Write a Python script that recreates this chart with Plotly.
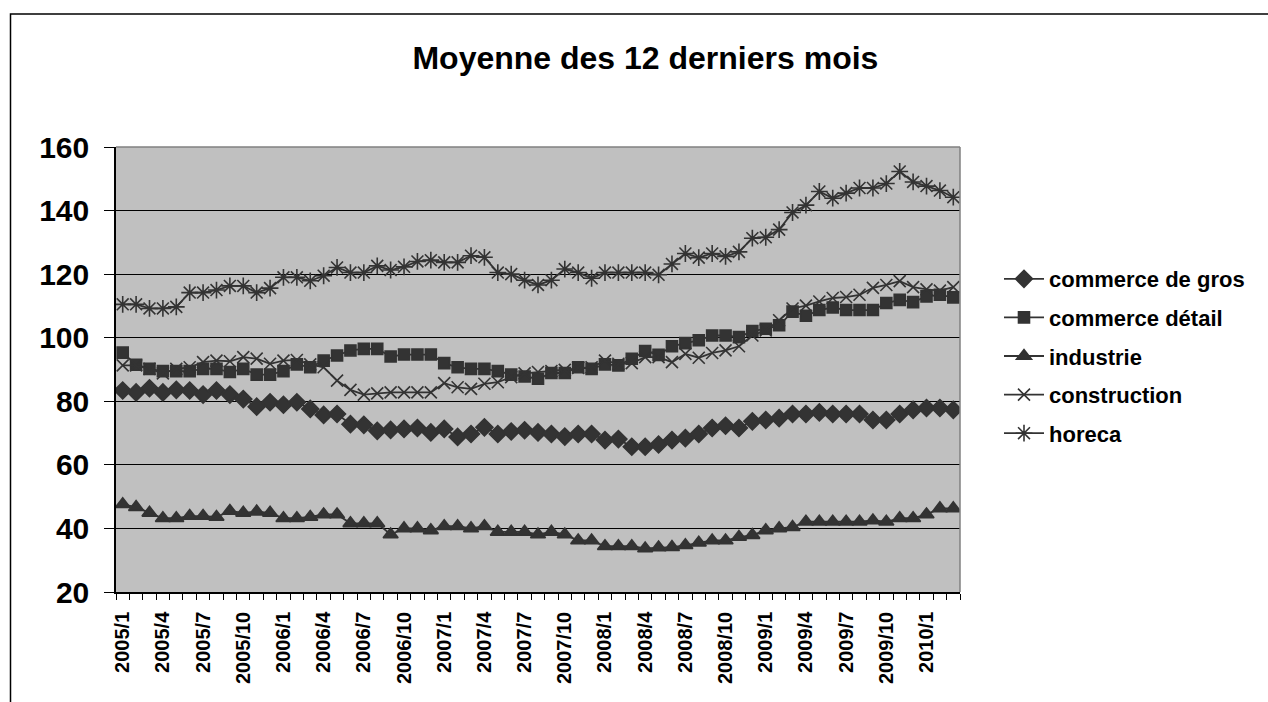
import plotly.graph_objects as go

months = [f"{y}/{m}" for y in range(2005, 2011) for m in range(1, 13)][:63]

commerce_gros = [83.4, 82.8, 84.1, 82.8, 83.6, 83.4, 82.1, 83.4, 82.1, 80.7, 78.3, 79.7, 78.9, 79.7, 77.6, 75.7,
                 76.0, 72.8, 72.6, 70.7, 71.0, 71.3, 71.6, 70.2, 71.3, 68.8, 69.7, 71.8, 69.7, 70.5, 70.9, 70.2,
                 69.7, 68.9, 69.7, 69.7, 67.8, 68.1, 65.7, 65.7, 66.4, 67.8, 68.4, 69.7, 71.6, 72.3, 71.6, 73.7,
                 74.1, 74.7, 76.0, 76.0, 76.5, 76.0, 76.0, 76.0, 74.1, 74.1, 76.0, 77.3, 77.9, 77.9, 77.3]

commerce_detail = [95.3, 91.5, 90.2, 89.5, 89.5, 89.5, 90.2, 90.2, 89.2, 90.2, 88.4, 88.4, 89.5, 91.6, 90.7, 92.8,
                   94.4, 96.0, 96.5, 96.5, 94.1, 94.7, 94.7, 94.7, 92.0, 90.7, 90.2, 90.2, 89.5, 88.4, 87.8, 87.1,
                   88.9, 88.9, 90.7, 90.2, 91.6, 91.3, 93.4, 95.8, 94.6, 97.3, 98.3, 99.2, 100.7, 100.7, 100.2, 102.1,
                   102.8, 103.9, 108.2, 106.9, 108.7, 109.5, 108.7, 108.7, 108.7, 110.9, 111.9, 111.2, 113.0, 113.5, 112.7]

industrie = [47.6, 46.7, 44.9, 43.2, 43.2, 43.9, 43.9, 43.6, 45.5, 44.9, 45.3, 44.9, 43.2, 43.2, 43.6, 44.4,
             44.4, 41.6, 41.6, 41.6, 38.1, 40.0, 40.0, 39.4, 40.7, 40.7, 40.0, 40.7, 38.9, 38.9, 38.9, 38.1,
             38.9, 38.1, 36.2, 36.2, 34.4, 34.4, 34.4, 33.7, 34.0, 34.1, 34.7, 35.5, 36.2, 36.2, 37.3, 37.9,
             39.4, 40.0, 40.4, 42.1, 42.1, 42.1, 42.1, 42.1, 42.5, 42.1, 43.2, 43.2, 44.4, 46.3, 46.3]

construction = [91.3, 91.3, 90.2, 88.8, 90.2, 90.7, 92.3, 92.8, 92.6, 93.9, 93.4, 91.8, 92.8, 93.0, 91.6, 90.7,
                86.5, 83.6, 82.1, 82.5, 82.8, 82.8, 82.8, 82.8, 85.7, 84.4, 83.9, 85.5, 86.0, 87.6, 88.8, 89.2,
                89.5, 89.9, 90.5, 90.7, 92.8, 91.8, 92.0, 93.9, 93.9, 92.3, 94.9, 93.7, 95.2, 96.0, 97.3, 100.7,
                102.3, 105.5, 109.2, 110.1, 111.4, 112.5, 112.8, 113.5, 115.7, 116.6, 117.8, 115.9, 115.2, 114.8, 115.9]

horeca = [110.5, 110.5, 109.2, 109.2, 109.7, 114.2, 114.2, 115.0, 116.3, 116.3, 114.2, 115.6, 119.0, 119.0, 117.9, 119.5,
          122.1, 120.5, 120.5, 122.6, 121.3, 122.3, 124.0, 124.4, 123.7, 123.7, 125.8, 125.3, 120.5, 120.0, 118.1, 116.6,
          118.1, 121.6, 120.5, 118.7, 120.5, 120.5, 120.5, 120.5, 119.8, 123.2, 126.5, 125.2, 126.5, 125.6, 127.0, 131.3,
          131.6, 134.0, 139.4, 141.7, 146.0, 143.9, 145.5, 147.1, 147.1, 148.5, 152.3, 149.0, 147.7, 146.3, 144.2]

series_names = ["commerce de gros", "commerce détail", "industrie", "construction", "horeca"]
series_values = [commerce_gros, commerce_detail, industrie, construction, horeca]
symbols = ["diamond", "square", "triangle-up", "x-thin-open", "asterisk-open"]
sizes = [13, 11, 13, 12, 14]

tick_text = [m if i % 3 == 0 else "" for i, m in enumerate(months)]

FONT = "Liberation Sans, Arial, sans-serif"
DARK = "#333333"

fig = go.Figure()
for name, vals, sym, sz in zip(series_names, series_values, symbols, sizes):
    fig.add_trace(go.Scatter(
        x=months, y=vals, name=name, legendgroup=name,
        mode="lines+markers",
        line=dict(color=DARK, width=1.8),
        marker=dict(symbol=sym, size=sz, color=DARK, line=dict(color=DARK, width=1.6)),
    ))

W, H = 1268, 702
L, R, T, B = 116, 960, 147, 592

def px(x):
    return (x - L) / (R - L)

def py(y):
    return (B - y) / (B - T)

fig.update_layout(
    width=W, height=H,
    margin=dict(l=L, r=W - R, t=T, b=H - B, autoexpand=False),
    paper_bgcolor="white",
    plot_bgcolor="#C0C0C0",
    title=dict(text="<b>Moyenne des 12 derniers mois</b>", x=0.509, xref="container", xanchor="center",
               y=1 - 58 / H, yref="container", yanchor="middle",
               font=dict(family=FONT, size=32, color="black")),
    font=dict(family=FONT, color="black"),
    showlegend=True,
    legend=dict(x=px(999), xanchor="left", y=py(356), yanchor="middle",
                font=dict(family=FONT, size=22, color="black", weight="bold"),
                bgcolor="rgba(0,0,0,0)", tracegroupgap=7, itemwidth=40),
    xaxis=dict(type="category", range=[-0.5, len(months) - 0.5],
               tickmode="array", tickvals=months, ticktext=tick_text,
               tickangle=-90, tickson="boundaries", ticks="outside", ticklen=6,
               tickcolor="black", tickwidth=1.2,
               showline=True, linecolor="black", linewidth=1.5,
               showgrid=False, zeroline=False, ticklabelstandoff=10,
               tickfont=dict(family=FONT, size=20, color="black", weight="bold")),
    yaxis=dict(range=[20, 160], dtick=20, tick0=20,
               ticks="outside", ticklen=10, tickcolor="black", tickwidth=1.2,
               showline=True, linecolor="black", linewidth=1.5,
               showgrid=True, gridcolor="black", gridwidth=1.2, zeroline=False,
               ticklabelstandoff=9,
               tickfont=dict(family=FONT, size=30, color="black", weight="bold")),
    shapes=[
        dict(type="line", xref="paper", yref="paper", x0=0, x1=1, y0=1, y1=1,
             line=dict(color="#808080", width=1.5)),
        dict(type="line", xref="paper", yref="paper", x0=1, x1=1, y0=0, y1=1,
             line=dict(color="#808080", width=1.5)),
        dict(type="rect", xref="paper", yref="paper", x0=px(10.5), x1=px(1290), y0=py(14), y1=py(720),
             line=dict(color="black", width=1.5), fillcolor="rgba(0,0,0,0)"),
    ],
)

fig.write_html("out.html", config={"displayModeBar": False},
               post_script="document.body.style.margin='0';document.body.style.overflow='hidden';")
